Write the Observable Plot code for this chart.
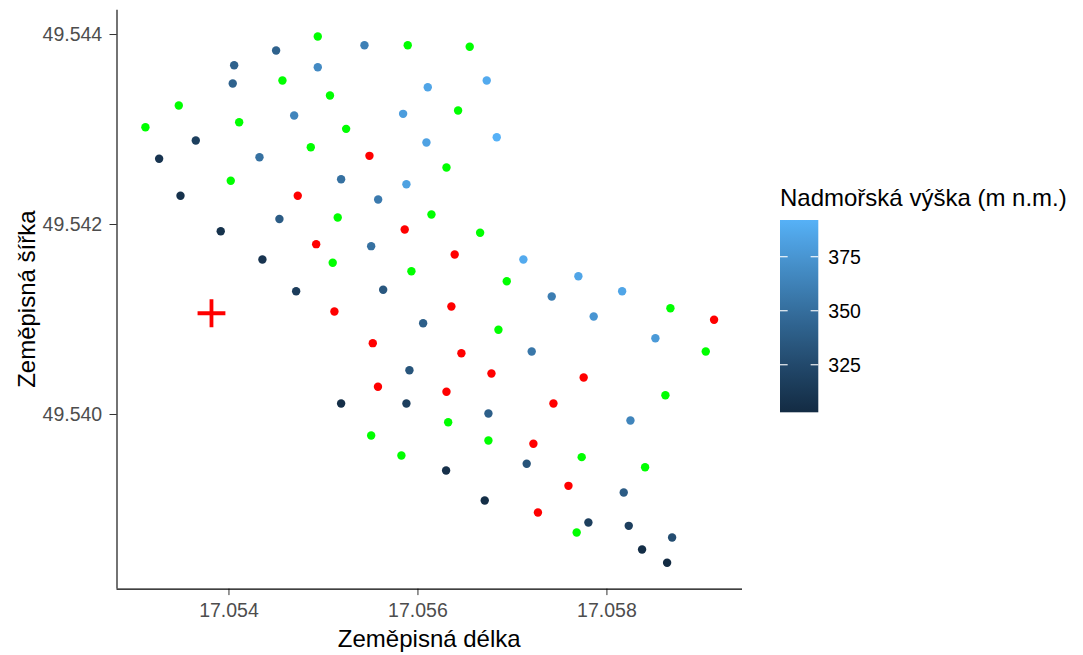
<!DOCTYPE html>
<html>
<head>
<meta charset="utf-8">
<script src="https://cdn.jsdelivr.net/npm/d3@7"></script>
<script src="https://cdn.jsdelivr.net/npm/@observablehq/plot@0.6"></script>
<style>
  body { margin: 0; background: #fff; }
  #chart { position: relative; width: 1083px; height: 655px; font-family: "Liberation Sans", Arial, sans-serif; }
</style>
</head>
<body>
<div id="chart"></div>
<script>
// Measured points with an elevation reading (longitude, latitude, m a.s.l.)
const blueLon = [17.053261, 17.053649, 17.053487, 17.054055, 17.054040, 17.053913, 17.054499, 17.054690,
  17.054323, 17.054534, 17.054354, 17.054940, 17.055187, 17.054711, 17.055434, 17.055843, 17.055878,
  17.055579, 17.055505, 17.055632, 17.055910, 17.055187, 17.055878, 17.056104, 17.056090, 17.056055,
  17.056298, 17.056728, 17.056834, 17.056746, 17.056707, 17.057116, 17.057416, 17.057204, 17.057698,
  17.057860, 17.057151, 17.057804, 17.058161, 17.058513, 17.058249, 17.058178, 17.058231, 17.058372,
  17.058690, 17.058637];
const blueLat = [49.542692, 49.542884, 49.542302, 49.543677, 49.543484, 49.541929, 49.543832, 49.543147,
  49.542708, 49.542058, 49.541632, 49.543656, 49.542477, 49.541298, 49.543887, 49.543165, 49.542424,
  49.542263, 49.541772, 49.541313, 49.540466, 49.540116, 49.540116, 49.543445, 49.542863, 49.540961,
  49.539411, 49.543516, 49.542919, 49.540011, 49.539095, 49.541632, 49.541242, 49.540663, 49.541456,
  49.541032, 49.539481, 49.538863, 49.541298, 49.540803, 49.539937, 49.539179, 49.538828, 49.538579,
  49.538705, 49.538439];
const blueElev = [310, 318, 308, 342, 342, 308, 342, 365,
  352, 338, 310, 368, 352, 316, 362, 380, 382,
  358, 352, 335, 333, 306, 318, 385, 383, 340,
  307, 388, 392, 340, 305, 388, 360, 356, 385,
  375, 332, 318, 385, 378, 365, 338, 318, 305,
  328, 303];

// Points marked green
const greenLon = [17.053116, 17.053469, 17.054108, 17.054019, 17.054566, 17.054940, 17.055069, 17.055240,
  17.054866, 17.055151, 17.055098, 17.055931, 17.055505, 17.055825, 17.055892, 17.056425, 17.056302,
  17.056143, 17.056320, 17.056548, 17.056658, 17.056940, 17.056852, 17.056746, 17.057733, 17.057680,
  17.058672, 17.059046, 17.058619, 17.058404];
const greenLat = [49.543024, 49.543253, 49.543077, 49.542460, 49.543516, 49.543979, 49.543358, 49.543007,
  49.542814, 49.542074, 49.541597, 49.541508, 49.539779, 49.539568, 49.543887, 49.543200, 49.542600,
  49.542105, 49.539919, 49.543871, 49.541913, 49.541403, 49.540892, 49.539726, 49.539551, 49.538758,
  49.541119, 49.540663, 49.540203, 49.539445];

// Points marked red
const redLon = [17.054728, 17.054923, 17.055487, 17.055860, 17.055116, 17.055522, 17.055577, 17.056389,
  17.056354, 17.056460, 17.056302, 17.056778, 17.057754, 17.057434, 17.057222, 17.057270, 17.057593,
  17.059134];
const redLat = [49.542302, 49.541793, 49.542723, 49.541947, 49.541084, 49.540751, 49.540292, 49.541684,
  49.541137, 49.540645, 49.540239, 49.540432, 49.540389, 49.540116, 49.539692, 49.538968, 49.539249,
  49.540997];

// Reference station (cross)
const stationLon = [17.053815];
const stationLat = [49.541066];

// Axis and legend ticks
const xTicks = [17.054, 17.056, 17.058];
const yTicks = [49.540, 49.542, 49.544];
const legendTicks = [325, 350, 375];

const xTitle = "Zeměpisná délka";
const yTitle = "Zeměpisná šířka";
const legendTitle = "Nadmořská výška (m n.m.)";

// Tables for the marks
const blue = blueLon.map((lon, i) => ({lon, lat: blueLat[i], elev: blueElev[i]}));
const green = greenLon.map((lon, i) => ({lon, lat: greenLat[i]}));
const red = redLon.map((lon, i) => ({lon, lat: redLat[i]}));
const station = stationLon.map((lon, i) => ({lon, lat: stationLat[i]}));

// Panel range = data range expanded by 5 % on each side
function expand(values) {
  const [a, b] = d3.extent(values);
  const p = (b - a) * 0.05;
  return [a - p, b + p];
}
const xDom = expand([...blueLon, ...greenLon, ...redLon, ...stationLon]);
const yDom = expand([...blueLat, ...greenLat, ...redLat, ...stationLat]);

const W = 1083, H = 655;
const mL = 116.5, mR = 341, mT = 9.7, mB = 66.4;
const FONT = '"Liberation Sans", Arial, sans-serif';

const plot = Plot.plot({
  width: W,
  height: H,
  marginLeft: mL,
  marginRight: mR,
  marginTop: mT,
  marginBottom: mB,
  style: {fontFamily: FONT, fontSize: "19.5px", background: "#fff", overflow: "visible"},
  x: {domain: xDom},
  y: {domain: yDom},
  color: {type: "linear", domain: d3.extent(blueElev), range: ["#132B43", "#56B1F7"], interpolate: "lab"},
  marks: [
    Plot.axisX({ticks: xTicks, tickFormat: d3.format(".3f"), tickSize: 6.5, tickPadding: 8, stroke: "#333", label: null}),
    Plot.axisY({ticks: yTicks, tickFormat: d3.format(".3f"), tickSize: 7, tickPadding: 7.8, stroke: "#333", label: null}),
    Plot.ruleX([xDom[0]], {stroke: "#000", strokeWidth: 1.1}),
    Plot.ruleY([yDom[0]], {stroke: "#000", strokeWidth: 1.1}),
    Plot.dot(blue, {x: "lon", y: "lat", fill: "elev", r: 4.2}),
    Plot.dot(green, {x: "lon", y: "lat", fill: "#00FF00", r: 4.2}),
    Plot.dot(red, {x: "lon", y: "lat", fill: "#FF0000", r: 4.2}),
    Plot.dot(station, {x: "lon", y: "lat", symbol: "plus", r: 9, stroke: "#FF0000", strokeWidth: 3.8})
  ]
});

document.getElementById("chart").appendChild(plot);

const svg = d3.select(plot);
svg.selectAll('[aria-label="x-axis tick label"], [aria-label="y-axis tick label"]').attr("fill", "#4D4D4D");

// Axis titles
svg.append("text")
  .attr("x", (mL + W - mR) / 2).attr("y", 646.7)
  .attr("text-anchor", "middle").attr("font-size", 24).attr("fill", "#000")
  .style("font-family", FONT)
  .text(xTitle);
svg.append("text")
  .attr("transform", `translate(35,${(mT + H - mB) / 2}) rotate(-90)`)
  .attr("text-anchor", "middle").attr("font-size", 24).attr("fill", "#000")
  .style("font-family", FONT)
  .text(yTitle);

// Colour bar legend
const colorScale = plot.scale("color");
const colorOf = Plot.scale({color: colorScale});
const [eMin, eMax] = d3.extent(blueElev);
const barX = 780, barW = 38.3, barTop = 220, barBottom = 412.3;
const ly = d3.scaleLinear().domain([eMin, eMax]).range([barBottom, barTop]);

const lg = svg.append("g").style("font-family", FONT).attr("text-anchor", "start");
const grad = lg.append("defs").append("linearGradient")
  .attr("id", "elev-grad").attr("x1", 0).attr("y1", 1).attr("x2", 0).attr("y2", 0);
d3.range(0, 21).forEach(k => {
  const v = eMin + (eMax - eMin) * k / 20;
  grad.append("stop").attr("offset", `${k * 5}%`).attr("stop-color", colorOf.apply(v));
});
lg.append("rect")
  .attr("x", barX).attr("y", barTop).attr("width", barW).attr("height", barBottom - barTop)
  .attr("fill", "url(#elev-grad)");
legendTicks.forEach(t => {
  const y = ly(t);
  lg.append("line").attr("x1", barX).attr("x2", barX + barW / 5).attr("y1", y).attr("y2", y)
    .attr("stroke", "#fff").attr("stroke-width", 1.1);
  lg.append("line").attr("x1", barX + barW - barW / 5).attr("x2", barX + barW).attr("y1", y).attr("y2", y)
    .attr("stroke", "#fff").attr("stroke-width", 1.1);
  lg.append("text").attr("x", 828.3).attr("y", y).attr("dy", "0.36em").attr("text-anchor", "start")
    .attr("font-size", 19.5).attr("fill", "#000").text(t);
});
lg.append("text").attr("x", 780).attr("y", 206).attr("text-anchor", "start")
  .attr("font-size", 24).attr("fill", "#000").text(legendTitle);
</script>
</body>
</html>
